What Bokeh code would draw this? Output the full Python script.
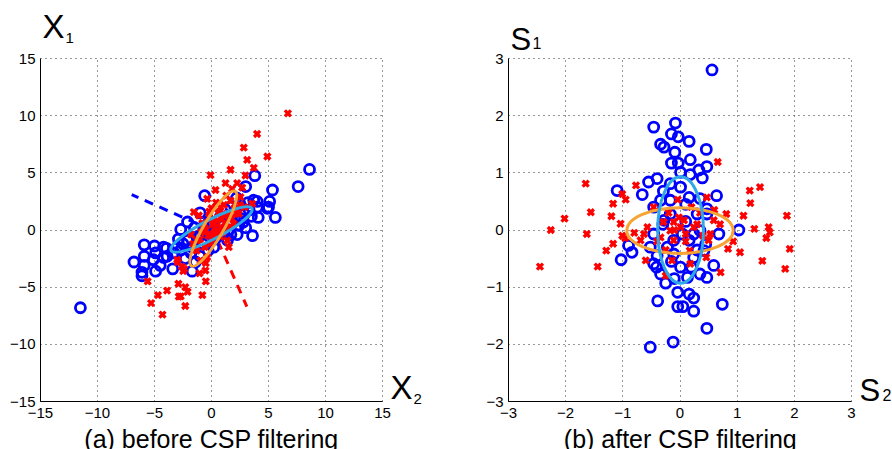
from bokeh.plotting import figure
from bokeh.layouts import row
from bokeh.models import Range1d, FixedTicker, Label, LinearAxis, Grid
from bokeh.embed import file_html
from bokeh.resources import INLINE

# ---------------- data: (a) before CSP filtering ----------------
left_ticks = [-15, -10, -5, 0, 5, 10, 15]

blue_a_x = [-11.5, 8.6, 7.6, 3.8, 5.35, 3.0, 4.0, 5.1, 4.9, 5.6, 4.1, 3.6, -0.6, -1.0, -2.1, -2.7,
            -5.9, -5.0, -4.2, -6.8, -5.9, -6.1, -4.9, -5.1, -4.5, -3.9, -3.4, -3.95, -4.9, -5.9,
            -1.7, -3.0, 2.25, 1.7, 2.8, 3.3, 2.5, 2.0, 0.5, -0.4, -1.25, -1.7, -1.0, 0.2, 1.4,
            -2.1, -2.7, -0.7, 0.8, 1.7, 3.7, -6.1, -4.2, -2.9, 4.0, 3.2, 5.0, 1.0, -0.2, 1.2,
            2.6, 0.3, -1.5, 3.0, -0.8, 1.5, -2.3, 0.0, 2.2, -3.3, -1.4,
            1.8, -1.0, 2.4, -2.5, 0.6, 3.5, -1.8, 1.1, 2.9, -0.3]
blue_a_y = [-6.8, 5.3, 3.8, 4.75, 3.5, 3.8, 2.5, 2.5, 1.9, 1.1, 1.1, -0.5, 3.0, 1.5, 0.7, 0.05,
            -1.3, -1.4, -1.5, -2.8, -2.3, -4.0, -3.6, -2.6, -3.1, -2.3, -3.4, -1.6, -2.0, -3.1,
            -3.6, -1.5, -0.4, -0.4, 0.7, 1.75, 2.3, 1.5, 0.0, -0.3, -0.7, -1.5, -2.3, -1.5, -0.9,
            -0.9, -1.75, 0.3, 1.2, 2.0, 2.6, -3.7, -2.4, -0.8, 2.0, 2.4, 2.0, 0.5, 0.8, 1.8,
            1.0, -0.8, 0.2, 0.2, -1.2, 0.0, -2.5, 0.3, 2.8, -2.0, -2.8,
            0.6, -0.5, 0.4, -1.2, -0.5, 1.2, -2.0, -0.2, 1.4, -1.8]

red_a_x = [6.7, 4.0, 2.83, 3.13, 4.9, 3.71, 1.67, -0.09, 2.98, 1.23, 2.25, 0.35, 1.81, 2.69, 3.57,
           -0.38, 2.39, -1.55, 1.52, -1.11, 0.79, 1.67, 2.54, 0.2, -0.67, 0.5, -1.25, 1.38, -0.09,
           0.79, 1.96, 1.67, -0.38, -0.96, -0.53, -0.5, -0.5, -0.8, -2.3, -4.3, -5.3, -4.7, -3.9,
           -5.6, -2.9, -2.3, -2.7, -2.1, -3.0, -2.6, -1.05, -2.95, -2.4, -2.87, -2.48, 0.9, 0.3,
           -0.3, 1.2, 0.6, -0.6, 1.0, 0.0, 2.0, -1.3, 0.4, 1.3, -0.2, 2.9, 0.1, -1.8, 1.8, -0.9,
           0.5, 1.5, -0.5, 0.2, 1.1, -1.0, 2.2, 0.8, -0.2, 1.6, -1.6, 2.5, 0.0, -0.8, 1.0]
red_a_y = [10.2, 8.4, 7.2, 6.14, 6.43, 5.44, 5.27, 4.8, 4.77, 4.1, 4.1, 3.5, 3.6, 3.7, 2.3,
           2.73, 1.42, 1.56, -1.5, 1.27, 2.0, 2.58, 2.87, 0.83, 0.25, -0.33, -0.92, -0.92, -1.2,
           0.25, 0.54, 1.42, -2.38, -2.67, -3.54, -2.9, -4.5, -5.7, -6.65, -7.4, -6.4, -5.7, -5.3,
           -4.5, -4.7, -5.0, -5.8, -5.4, -2.6, -3.2, -3.8, -2.82, -3.4, -5.82, -3.6, 1.0, 0.2,
           -0.5, 0.6, 1.5, -1.5, -0.2, -0.8, 1.9, -1.8, 2.4, 3.0, 1.6, 2.0, 0.5, -0.4, 1.0, -0.2,
           0.8, 1.2, 0.0, -0.3, 2.2, -0.8, 1.5, -0.6, 1.1, 0.3, -1.2, 2.2, 1.9, 0.6, 1.4]

# filter directions (start, end)
dir_a_blue_x = [0.0, -7.0]
dir_a_blue_y = [0.0, 3.1]
dir_a_red_x = [0.0, 3.1]
dir_a_red_y = [0.31, -6.7]

# covariance ellipses: center x, center y, full width, full height, angle (rad)
ell_a_blue = [0.0, 0.05, 8.0, 1.7, 0.48]
ell_a_red = [0.16, 0.12, 7.6, 1.7, 1.042]

# ---------------- data: (b) after CSP filtering ----------------
right_ticks = [-3, -2, -1, 0, 1, 2, 3]

red_b_x = [-2.45, -2.26, -2.02, -1.65, -1.56, -1.63, -1.44, -1.29, -1.2, -1.17, -1.17, -1.01, -0.95,
           -1.04, -1.01, -0.96, -0.77, -0.6, -0.69, -0.63, -0.57, -0.46, -0.29, -0.34, -0.11, -0.04,
           -0.02, 0.01, 0.1, 0.17, 0.24, 0.47, 0.66, 0.59, 0.53, 0.5, 0.46, 0.71, 0.81, 0.84, 0.93,
           1.05, 1.11, 1.22, 1.23, 1.3, 1.4, 1.44, 1.51, 1.55, 1.57, 1.87, 1.92, 1.84, -0.14, 0.18,
           -0.25, -0.11, 0.07, -0.17,
           0.3, -0.2, 0.1, 0.35, -0.4, 0.2, -0.1, 0.4, -0.25, 0.6, -0.8, 0.7]
red_b_y = [-0.64, 0.0, 0.2, 0.81, 0.31, -0.07, -0.64, -0.36, 0.24, 0.46, -0.24, 0.63, 0.53,
           0.11, -0.1, -0.14, 0.78, -0.53, -0.18, -0.07, 0.05, 0.4, 0.14, -0.13, -0.18, 0.53,
           0.22, 0.05, -0.07, -0.36, 0.05, 0.57, 1.19, 0.17, -0.07, -0.18, -0.48, -0.74, 0.28, -0.33, -0.2,
           -0.39, 0.25, 0.69, 0.47, 0.02, 0.75, -0.54, -0.14, 0.05, -0.04, 0.25, -0.33, -0.68, -0.53, -0.59,
           -0.8, 0.14, 0.17, -0.01,
           0.1, 0.3, -0.2, 0.3, -0.2, 0.4, 0.0, -0.1, -0.35, 0.35, -0.05, 0.1]

blue_b_x = [0.56, -0.46, -0.08, -0.15, -0.03, 0.16, -0.34, -0.28, 0.46, -0.09, 0.18, -0.15, -0.03,
            0.47, 0.33, 0.01, 0.18, 0.39, -0.4, -0.55, -1.1, -0.66, 0.64, -0.29, -0.17, 0.01, 0.16,
            -0.17, -0.34, 0.47, 0.3, -0.17, -0.28, 1.03, 0.68, 0.35, -0.46, -0.52, -0.9, -0.84, -1.03,
            -0.46, -0.41, -0.34, -0.25, -0.11, 0.01, 0.13, 0.24, 0.35, 0.47, 0.59, 0.42, -0.04, 0.16,
            0.24, -0.39, 0.74, -0.04, 0.05, 0.24, 0.47, -0.12, -0.52, 0.04, -0.11, -0.22, 0.16, 0.24,
            -0.46, 0.47,
            0.1, -0.15, 0.3, -0.3, 0.35, 0.2, -0.4, 0.1, 0.45, -0.1]
blue_b_y = [2.8, 1.8, 1.87, 1.68, 1.63, 1.55, 1.5, 1.45, 1.41, 1.36, 1.23, 1.17, 1.17,
            1.11, 1.05, 1.01, 0.97, 0.91, 0.9, 0.84, 0.69, 0.62, 0.6, 0.68, 0.81, 0.75, 0.57,
            0.52, 0.52, 0.37, 0.28, 0.28, 0.17, 0.0, -0.07, -0.01, -0.07, -0.3, -0.27, -0.39, -0.52,
            -0.59, -0.65, -0.77, -0.93, -0.42, -0.65, -0.83, -0.48, -0.77, -0.83, -0.62, -0.36, -1.09, -1.12,
            -1.19, -1.24, -1.3, -1.34, -1.34, -1.42, -1.72, -1.96, -2.05, -0.07, -0.18, -0.3, -0.18, -0.07,
            0.4, 0.28,
            0.45, -0.55, -0.35, 0.1, 0.55, -0.65, -0.45, 0.15, -0.25, -0.85]

ell_b_blue = [0.01, 0.0, 0.8, 1.86, 0.0]
ell_b_red = [0.0, -0.01, 1.86, 0.8, 0.0]

FONT = "Liberation Sans"
BLUE = "#0000ff"
RED = "#ff0000"
CYAN = "#2fa8e6"
ORANGE = "#f6a434"
GRID = "#333333"


def fmt(t):
    return ("\u2212" + str(abs(t))) if t < 0 else str(t)


def make_fig(width, height, frame_left, frame_top, frame_w, frame_h, lim, ticks):
    """Whole canvas is the plotting frame; the data box [-lim, lim]^2 sits at the
    given pixel rectangle, and axes are pinned to its left/bottom edges."""
    kx = frame_w / (2.0 * lim)
    ky = frame_h / (2.0 * lim)
    xr = Range1d(-lim - frame_left / kx, lim + (width - frame_left - frame_w) / kx)
    yr = Range1d(-lim - (height - frame_top - frame_h) / ky, lim + frame_top / ky)
    p = figure(width=width, height=height, x_range=xr, y_range=yr,
               x_axis_type=None, y_axis_type=None,
               output_backend="svg", toolbar_location=None, min_border=0)
    p.outline_line_color = None
    p.background_fill_color = "white"
    p.border_fill_color = "white"

    for dim in (0, 1):
        tk = FixedTicker(ticks=ticks)
        g = Grid(dimension=dim, ticker=tk, bounds=(-lim, lim),
                 grid_line_color=GRID, grid_line_dash="1 4", grid_line_width=1)
        has_cross = "cross_bounds" in Grid.properties()
        if has_cross:
            g.cross_bounds = (-lim, lim)
            p.add_layout(g)
        else:
            if dim == 0:
                p.segment(x0=ticks, y0=[-lim] * len(ticks), x1=ticks, y1=[lim] * len(ticks),
                          line_color=GRID, line_dash="1 4", line_width=1)
            else:
                p.segment(x0=[-lim] * len(ticks), y0=ticks, x1=[lim] * len(ticks), y1=ticks,
                          line_color=GRID, line_dash="1 4", line_width=1)

        ax = LinearAxis(ticker=tk, fixed_location=-lim, bounds=(-lim, lim))
        ax.major_label_overrides = {t: fmt(t) for t in ticks}
        ax.major_label_text_font = FONT
        ax.major_label_text_font_size = "15px"
        ax.major_label_text_color = "black"
        ax.axis_line_color = "black"
        ax.axis_line_width = 1
        ax.major_tick_in = 0
        ax.major_tick_out = 0
        ax.minor_tick_line_color = None
        ax.major_label_standoff = 6 if dim == 0 else 5
        p.add_layout(ax, "below" if dim == 0 else "left")
    return p


def lbl(p, x, y, text, size, align="left"):
    p.add_layout(Label(x=x, y=y, text=text, text_font=FONT, text_font_size=size,
                       text_color="black", text_align=align, text_baseline="alphabetic"))


CIRCLE_SIZE, CIRCLE_LW = 10, 2.8
X_SIZE, X_LW = 8.5, 3.3

# ---- left figure: canvas 448x449, data box at (40, 58) size 342x343 ----
p1 = make_fig(448, 449, 40, 58, 342, 343, 15, left_ticks)
p1.line(dir_a_blue_x, dir_a_blue_y, line_color=BLUE, line_width=3, line_dash="9 7")
p1.line(dir_a_red_x, dir_a_red_y, line_color=RED, line_width=3, line_dash="9 7")
p1.scatter(blue_a_x, blue_a_y, marker="circle", size=CIRCLE_SIZE, fill_color=None,
           line_color=BLUE, line_width=CIRCLE_LW)
p1.scatter(red_a_x, red_a_y, marker="x", size=X_SIZE, line_color=RED, line_width=X_LW)
p1.ellipse(x=[ell_a_blue[0]], y=[ell_a_blue[1]], width=[ell_a_blue[2]], height=[ell_a_blue[3]],
           angle=[ell_a_blue[4]], fill_color=None, line_color=CYAN, line_width=3)
p1.ellipse(x=[ell_a_red[0]], y=[ell_a_red[1]], width=[ell_a_red[2]], height=[ell_a_red[3]],
           angle=[ell_a_red[4]], fill_color=None, line_color=ORANGE, line_width=3)
lbl(p1, -14.83, 17.82, "X", "33px")
lbl(p1, -12.81, 16.76, "1", "15px")
lbl(p1, 15.70, -13.76, "X", "33px")
lbl(p1, 17.72, -14.81, "2", "15px")
lbl(p1, 0.0, -18.3, "(a) before CSP filtering", "25px", align="center")

# ---- right figure: canvas 444x449, data box at (60, 58) size 343x343 ----
p2 = make_fig(444, 449, 60, 58, 343, 343, 3, right_ticks)
p2.scatter(blue_b_x, blue_b_y, marker="circle", size=CIRCLE_SIZE, fill_color=None,
           line_color=BLUE, line_width=CIRCLE_LW)
p2.scatter(red_b_x, red_b_y, marker="x", size=X_SIZE, line_color=RED, line_width=X_LW)
p2.ellipse(x=[ell_b_red[0]], y=[ell_b_red[1]], width=[ell_b_red[2]], height=[ell_b_red[3]],
           angle=[ell_b_red[4]], fill_color=None, line_color=ORANGE, line_width=3)
p2.ellipse(x=[ell_b_blue[0]], y=[ell_b_blue[1]], width=[ell_b_blue[2]], height=[ell_b_blue[3]],
           angle=[ell_b_blue[4]], fill_color=None, line_color=CYAN, line_width=3)
lbl(p2, -2.965, 3.341, "S", "31px")
lbl(p2, -2.58, 3.269, "1", "16px")
lbl(p2, 3.14, -2.799, "S", "31px")
lbl(p2, 3.542, -2.889, "2", "16px")
lbl(p2, 0.009, -3.66, "(b) after CSP filtering", "25px", align="center")

layout = row(p1, p2)
open("out.html", "w").write(file_html(layout, INLINE))
